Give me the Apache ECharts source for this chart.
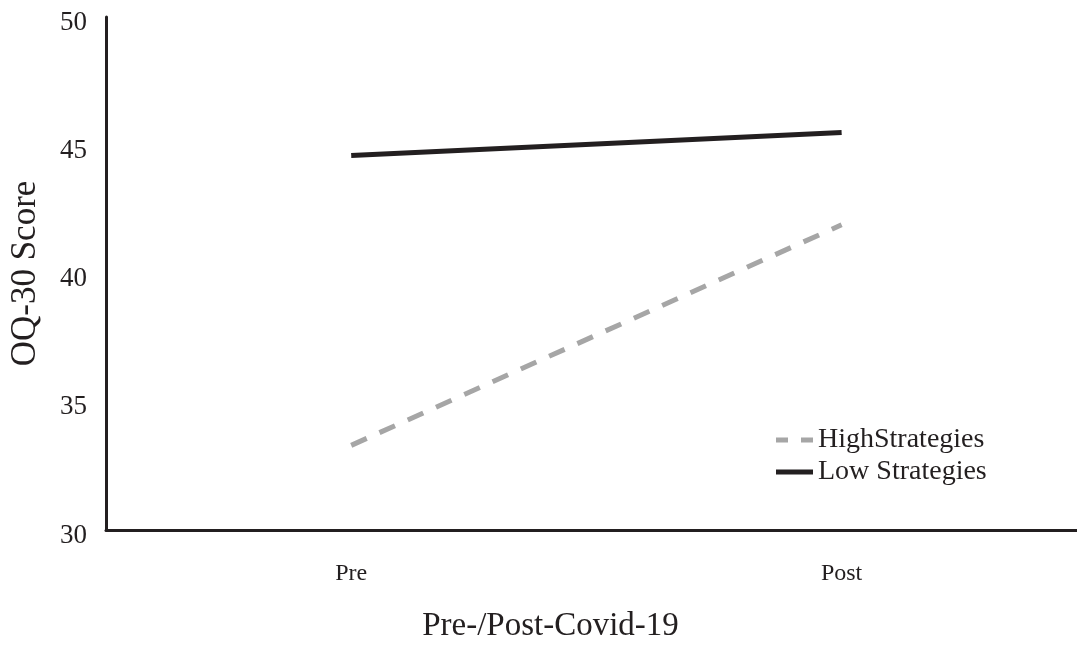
<!DOCTYPE html>
<html>
<head>
<meta charset="utf-8">
<script src="https://cdn.jsdelivr.net/npm/echarts@6/dist/echarts.min.js"></script>
<style>html,body{margin:0;padding:0;background:#fff}#c{width:1077px;height:648px}</style>
</head>
<body>
<div id="c"></div>
<script>
const categories = ['Pre', 'Post'];
const highStrategies = [33.3, 41.9];
const lowStrategies = [44.6, 45.5];
const yTicks = [30, 35, 40, 45, 50];

const FONT = '"Liberation Serif", "DejaVu Serif", serif';
const INK = '#231f20';
const GREY = '#a6a6a6';
// categories sit at x = 1 and x = 3 on a 0..3.96 value axis (as in the original layout)
const catX = i => 1 + 2 * i;
const pairs = vals => vals.map((v, i) => [catX(i), v]);
const labelFor = {};
categories.forEach((c, i) => { labelFor[catX(i)] = c; });

const chart = echarts.init(document.getElementById('c'));
chart.setOption({
  animation: false,
  backgroundColor: '#fff',
  grid: { left: 106, right: 0, top: 17, bottom: 112, containLabel: false },
  legend: {
    orient: 'vertical',
    left: 771,
    top: 421,
    itemWidth: 37,
    itemHeight: 5,
    itemGap: 4,
    textStyle: { fontFamily: FONT, fontSize: 28, color: INK },
    data: [
      { name: 'HighStrategies', icon: 'path://M0,0h12v5h-12z M25,0h12v5h-12z', itemStyle: { color: GREY } },
      { name: 'Low Strategies', icon: 'path://M0,0h37v5h-37z', itemStyle: { color: INK } }
    ]
  },
  xAxis: {
    type: 'value',
    min: 0,
    max: 3.96,
    interval: 1,
    name: 'Pre-/Post-Covid-19',
    nameLocation: 'middle',
    nameGap: 80,
    nameTextStyle: { fontFamily: FONT, fontSize: 33, color: INK, padding: [0, 82, 0, 0] },
    axisLine: { onZero: false, lineStyle: { color: INK, width: 3 } },
    axisTick: { show: false },
    axisLabel: {
      fontFamily: FONT, fontSize: 24, color: INK, margin: 32,
      showMinLabel: false, showMaxLabel: false,
      formatter: v => labelFor[v] || ''
    },
    splitLine: { show: false }
  },
  yAxis: {
    type: 'value',
    min: yTicks[0],
    max: yTicks[yTicks.length - 1],
    interval: 5,
    name: 'OQ-30 Score',
    nameLocation: 'middle',
    nameGap: 63,
    nameTextStyle: { fontFamily: FONT, fontSize: 35, color: INK },
    axisLine: { show: true, onZero: false, lineStyle: { color: INK, width: 3 } },
    axisTick: { show: false },
    axisLabel: {
      margin: 19,
      formatter: '{a|{value}}',
      rich: { a: { fontFamily: FONT, fontSize: 27, color: INK, padding: [11, 0, 0, 0] } }
    },
    splitLine: { show: false }
  },
  series: [
    {
      name: 'HighStrategies',
      type: 'line',
      data: pairs(highStrategies),
      symbol: 'none',
      lineStyle: { color: GREY, width: 5, type: [17, 14], cap: 'butt' },
      itemStyle: { color: GREY }
    },
    {
      name: 'Low Strategies',
      type: 'line',
      data: pairs(lowStrategies),
      symbol: 'none',
      lineStyle: { color: INK, width: 5, type: 'solid' },
      itemStyle: { color: INK }
    }
  ]
});
</script>
</body>
</html>
